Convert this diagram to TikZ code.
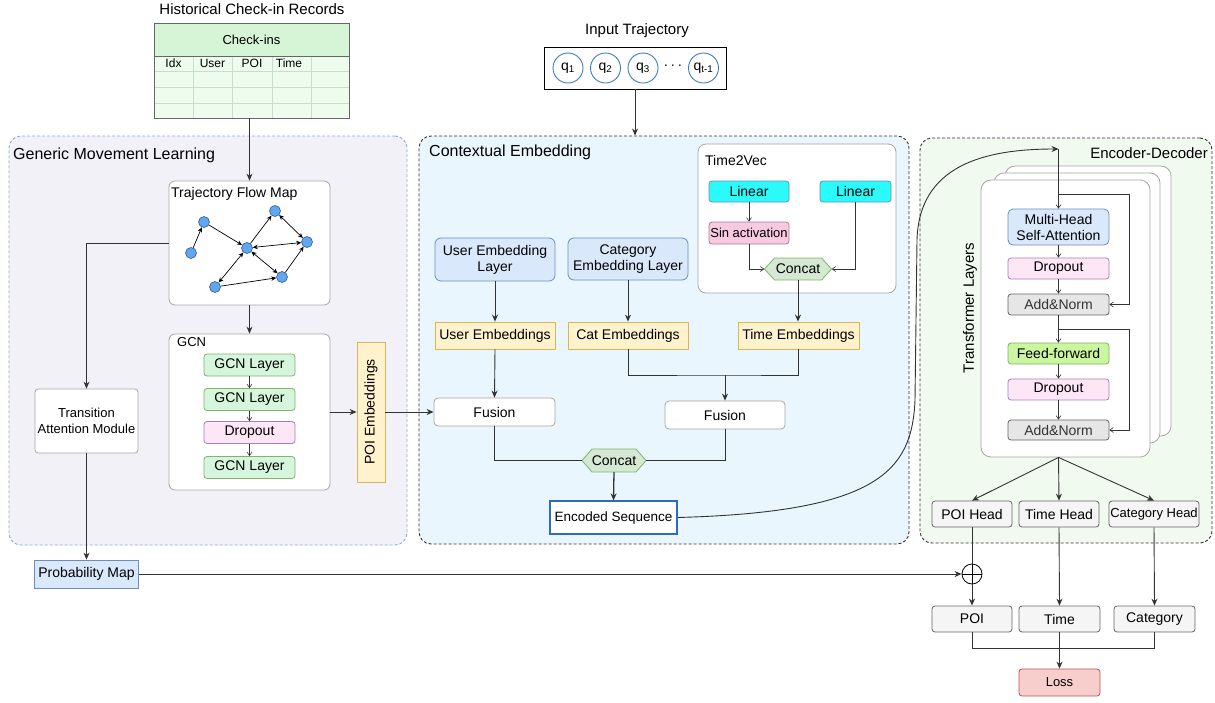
\documentclass[tikz,border=0pt]{standalone}
\usepackage{fontspec}
\setmainfont{Liberation Sans}
\usetikzlibrary{arrows.meta,calc}
\definecolor{lc}{HTML}{333333}
\definecolor{gmlfill}{HTML}{F3F1F8}
\definecolor{gmldraw}{HTML}{8EA9D8}
\definecolor{cefill}{HTML}{E9F6FD}
\definecolor{edfill}{HTML}{F1FAEF}
\definecolor{boxgray}{HTML}{A6A6A6}
\definecolor{gfill}{HTML}{D5F5DC}
\definecolor{gdraw}{HTML}{82B366}
\definecolor{pfill}{HTML}{FDE6F6}
\definecolor{pdraw}{HTML}{A680B8}
\definecolor{bfill}{HTML}{DAE8FC}
\definecolor{bdraw}{HTML}{6C8EBF}
\definecolor{yfill}{HTML}{FFF2CC}
\definecolor{ydraw}{HTML}{D6B656}
\definecolor{cyanfill}{HTML}{2BFAFA}
\definecolor{sinfill}{HTML}{F8CADF}
\definecolor{sindraw}{HTML}{B5739D}
\definecolor{hexfill}{HTML}{D5E8D4}
\definecolor{fffill}{HTML}{CCF5A0}
\definecolor{anfill}{HTML}{E6E6E6}
\definecolor{headfill}{HTML}{F5F5F5}
\definecolor{hdraw}{HTML}{666666}
\definecolor{lossfill}{HTML}{F8CECC}
\definecolor{lossdraw}{HTML}{B85450}
\definecolor{encdraw}{HTML}{2D6CC0}
\definecolor{nodefill}{HTML}{62A6F0}
\definecolor{nodedraw}{HTML}{2C5E9E}
\definecolor{qdraw}{HTML}{3C7CC6}
\definecolor{thdr}{HTML}{D6F5D6}
\definecolor{tbody}{HTML}{EEFCEE}
\definecolor{tline}{HTML}{C9DEC9}
\newcommand{\fsz}[2]{\fontsize{#1}{#2}\selectfont}
\newcommand{\hexa}[4]{\filldraw[fill=hexfill, draw=gdraw, line width=0.8pt] (#1-#3/2,#2) -- (#1-#3/2+10,#2-#4/2) -- (#1+#3/2-10,#2-#4/2) -- (#1+#3/2,#2) -- (#1+#3/2-10,#2+#4/2) -- (#1-#3/2+10,#2+#4/2) -- cycle;}
\begin{document}
\begin{tikzpicture}[x=1pt,y=-1pt,
  bx/.style={draw=hdraw, rounded corners=3pt, inner sep=0pt, align=center, font=\fsz{14}{16}, line width=0.8pt},
  arr/.style={draw=lc, line width=0.9pt, -{Stealth[length=7pt,width=6pt]}},
  sarr/.style={draw=lc, line width=0.6pt, -{Straight Barb[length=3.5pt,width=5pt]}},
  ln/.style={draw=lc, line width=0.9pt},
  sln/.style={draw=lc, line width=0.6pt},
  gn/.style={circle, draw=nodedraw, fill=nodefill, line width=0.6pt, minimum size=11pt, inner sep=0pt},
  ge/.style={draw=black, line width=0.7pt, -{Stealth[length=5pt,width=4.5pt]}},
  gee/.style={draw=black, line width=0.7pt, {Stealth[length=5pt,width=4.5pt]}-{Stealth[length=5pt,width=4.5pt]}},
  qc/.style={circle, draw=qdraw, fill=white, line width=0.9pt, minimum size=30pt, inner sep=0pt, font=\fsz{14}{16}},
  region/.style={rounded corners=12pt, line width=0.9pt, dash pattern=on 3pt off 2pt, inner sep=0pt},
  ttl/.style={font=\fsz{16}{18}, inner sep=0pt},
  lbl/.style={anchor=west, inner sep=0pt, font=\fsz{14}{16}},
]
\useasboundingbox (0,0) rectangle (1215,702);

% regions
\node[region, draw=gmldraw, fill=gmlfill, minimum width=398, minimum height=409] (gml) at (208,340.5) {};
\node[region, draw=lc, fill=cefill, minimum width=490, minimum height=408] (ceb) at (664,340) {};
\node[region, draw=lc, fill=edfill, minimum width=292, minimum height=405] (edb) at (1066,340.5) {};
\node[ttl, anchor=west] (gmlt) at (13,155) {Generic Movement Learning};
\node[ttl, anchor=west] (cet) at (429,152) {Contextual Embedding};
\node[font=\fsz{15}{17}, inner sep=0pt, anchor=east] (edt) at (1208,153) {Encoder-Decoder};
\node[font=\fsz{15}{17}, inner sep=0pt] (hcr) at (252,9) {Historical Check-in Records};
\node[font=\fsz{15}{17}, inner sep=0pt] (itt) at (637,31) {Input Trajectory};

% table
\fill[tbody] (154,56) rectangle (349,118);
\fill[thdr] (154,23) rectangle (349,56);
\foreach \yy in {71,87,103} \draw[tline, line width=0.8pt] (154,\yy) -- (349,\yy);
\foreach \xx in {193,232,272,311} \draw[tline, line width=0.8pt] (\xx,56) -- (\xx,118);
\draw[hdraw, line width=0.8pt] (154,56) -- (349,56);
\node[draw=hdraw, minimum width=195, minimum height=95, inner sep=0pt, line width=0.8pt] (tbl) at (251.5,70.5) {};
\node[font=\fsz{13}{15}, inner sep=0pt] (chk) at (251.5,39.5) {Check-ins};
\node[font=\fsz{12}{14}, inner sep=0pt] (cidx) at (173.5,63.5) {Idx};
\node[font=\fsz{12}{14}, inner sep=0pt] (cusr) at (212.5,63.5) {User};
\node[font=\fsz{12}{14}, inner sep=0pt] (cpoi) at (252,63.5) {POI};
\node[font=\fsz{12}{14}, inner sep=0pt] (ctim) at (289,63.5) {Time};

% trajectory flow map
\node[bx, draw=boxgray, fill=white, minimum width=161, minimum height=124, rounded corners=6pt] (tfm) at (249.5,243) {};
\node[lbl] (tfmt) at (171,194) {Trajectory Flow Map};
\node[gn] (n1) at (191,253) {};
\node[gn] (n2) at (204,222) {};
\node[gn] (n3) at (247,248) {};
\node[gn] (n4) at (275,211) {};
\node[gn] (n5) at (307,242) {};
\node[gn] (n6) at (282,277) {};
\node[gn] (n7) at (215,287) {};
\draw[ge] (n1) -- (n2);
\draw[ge] (n2) -- (n3);
\draw[ge] (n3) -- (n4);
\draw[gee] (n4) -- (n5);
\draw[gee] (n3) -- (n5);
\draw[gee] (n3) -- (n6);
\draw[ge] (n6) -- (n5);
\draw[gee] (n7) -- (n3);
\draw[ge] (n7) -- (n6);

% GCN
\node[bx, draw=boxgray, fill=white, minimum width=161, minimum height=156, rounded corners=6pt] (gcn) at (249.5,412) {};
\node[lbl, font=\fsz{13}{15}] (gcnt) at (177,342) {GCN};
\node[bx, fill=gfill, draw=gdraw, minimum width=91, minimum height=22] (g1) at (249.5,365) {GCN Layer};
\node[bx, fill=gfill, draw=gdraw, minimum width=91, minimum height=22] (g2) at (249.5,399.5) {GCN Layer};
\node[bx, fill=pfill, draw=pdraw, minimum width=91, minimum height=22] (gd) at (249.5,432.5) {Dropout};
\node[bx, fill=gfill, draw=gdraw, minimum width=91, minimum height=22] (g3) at (249.5,467.5) {GCN Layer};
\draw[sarr] (g1.south) -- (g2.north);
\draw[sarr] (g2.south) -- (gd.north);
\draw[sarr] (gd.south) -- (g3.north);

\node[bx, fill=yfill, draw=ydraw, rounded corners=0pt, minimum width=28, minimum height=140] (poie) at (371,412) {};
\node[rotate=90, font=\fsz{14}{16}, inner sep=0pt] (poiet) at (poie.center) {POI Embeddings};

\node[bx, draw=boxgray, fill=white, minimum width=103, minimum height=64, font=\fsz{13}{16}] (tam) at (86.5,421) {Transition\\Attention Module};
\node[bx, fill=bfill, draw=bdraw, rounded corners=0pt, minimum width=104, minimum height=28] (pmap) at (86.5,574) {Probability Map};
\node[circle, draw=black, line width=0.8pt, minimum size=20pt, inner sep=0pt] (op) at (972,574) {};
\draw[black, line width=0.8pt] (op.north) -- (op.south) (op.west) -- (op.east);

% input trajectory
\node[draw=black, line width=0.9pt, minimum width=182, minimum height=42, inner sep=0pt] (inp) at (635,68) {};
\node[qc] (q1) at (568,68) {q\textsubscript{1}};
\node[qc] (q2) at (605.5,68) {q\textsubscript{2}};
\node[qc] (q3) at (643,68) {q\textsubscript{3}};
\node[font=\fsz{14}{16}, inner sep=0pt] (dots) at (673,67) {·\,·\,·};
\node[qc] (qt) at (703.5,68) {q\textsubscript{t-1}};

% Time2Vec
\node[bx, draw=boxgray, fill=white, minimum width=198, minimum height=149, rounded corners=8pt] (t2v) at (797,218.5) {};
\node[lbl] (t2vt) at (705,160) {Time2Vec};
\node[bx, fill=cyanfill, draw=bdraw, minimum width=80, minimum height=21] (lin1) at (749,191.5) {Linear};
\node[bx, fill=cyanfill, draw=bdraw, minimum width=71, minimum height=21] (lin2) at (855.5,191.5) {Linear};
\node[bx, fill=sinfill, draw=sindraw, minimum width=80, minimum height=22, font=\fsz{13}{15}] (sin) at (749,233) {Sin activation};
\hexa{798}{269}{67}{22}
\node[inner sep=0pt, minimum width=67, minimum height=22, font=\fsz{14}{16}] (cat1) at (798,269) {Concat};
\draw[sarr] (lin1.south) -- (sin.north);
\draw[sarr] (sin.south) |- (cat1.west);
\draw[sarr] (lin2.south) |- (cat1.east);

% embeddings
\node[bx, fill=bfill, draw=bdraw, rounded corners=6pt, minimum width=120, minimum height=43] (uel) at (495,259.5) {User Embedding\\Layer};
\node[bx, fill=bfill, draw=bdraw, rounded corners=6pt, minimum width=120, minimum height=42] (cel) at (628,259) {Category\\Embedding Layer};
\node[bx, fill=yfill, draw=ydraw, rounded corners=0pt, minimum width=120, minimum height=27] (ue) at (495,335.5) {User Embeddings};
\node[bx, fill=yfill, draw=ydraw, rounded corners=0pt, minimum width=120, minimum height=27] (ce) at (628,335.5) {Cat Embeddings};
\node[bx, fill=yfill, draw=ydraw, rounded corners=0pt, minimum width=121, minimum height=27] (te) at (798.5,335.5) {Time Embeddings};
\node[bx, draw=boxgray, fill=white, rounded corners=4pt, minimum width=121, minimum height=28] (fus1) at (494.5,412) {Fusion};
\node[bx, draw=boxgray, fill=white, rounded corners=4pt, minimum width=120, minimum height=28] (fus2) at (725,415) {Fusion};
\hexa{614}{460.5}{64}{23}
\node[inner sep=0pt, minimum width=64, minimum height=23, font=\fsz{14}{16}] (cat2) at (614,460.5) {Concat};
\node[bx, draw=encdraw, fill=white, rounded corners=0pt, line width=1.2pt, minimum width=127, minimum height=33, font=\fsz{13.5}{16}] (enc) at (613.5,517.5) {Encoded Sequence};

\draw[arr] (cat1.south) -- (cat1.south |- te.north);
\draw[arr] (uel.south) -- (ue.north);
\draw[arr] (cel.south) -- (ce.north);
\draw[arr] (ue.south) -- (fus1.north);
\coordinate (j1) at (725,375);
\draw[ln] (ce.south) |- (j1) -| (te.south);
\draw[arr] (j1) -- (fus2.north);
\draw[ln] (fus1.south) |- (cat2.west);
\draw[ln] (fus2.south) |- (cat2.east);
\draw[arr, line width=1.3pt] (cat2.south) -- (enc.north);

% transformer
\node[bx, draw=boxgray, fill=white, rounded corners=10pt, minimum width=166, minimum height=270] (tl3) at (1088,301) {};
\node[bx, draw=boxgray, fill=white, rounded corners=10pt, minimum width=166, minimum height=270] (tl2) at (1077,308) {};
\node[bx, draw=boxgray, fill=white, rounded corners=10pt, minimum width=169, minimum height=277] (tl1) at (1065.5,318.5) {};
\node[rotate=90, font=\fsz{15}{17}, inner sep=0pt] (tlt) at (970,308) {Transformer Layers};
\node[bx, fill=bfill, draw=bdraw, rounded corners=5pt, minimum width=101, minimum height=36] (mhsa) at (1058.5,227) {Multi-Head\\Self-Attention};
\node[bx, fill=pfill, draw=pdraw, minimum width=101, minimum height=21] (drop1) at (1058.5,268.5) {Dropout};
\node[bx, fill=anfill, draw=hdraw, minimum width=101, minimum height=21, text=lc] (an1) at (1058.5,304.5) {Add\&Norm};
\node[bx, fill=fffill, draw=gdraw, minimum width=101, minimum height=21] (ff) at (1058.5,353.5) {Feed-forward};
\node[bx, fill=pfill, draw=pdraw, minimum width=101, minimum height=21] (drop2) at (1058.5,389.5) {Dropout};
\node[bx, fill=anfill, draw=hdraw, minimum width=101, minimum height=20, text=lc] (an2) at (1058.5,430) {Add\&Norm};
\coordinate (top) at (1058.5,149);
\coordinate (b1) at (1058.5,194);
\coordinate (r1) at (1129,194);
\coordinate (b2) at (1058.5,329);
\coordinate (r2) at (1129,329);
\draw[sarr] (top) -- (mhsa.north);
\draw[sln] (b1) -- (r1);
\draw[sarr] (r1) |- (an1.east);
\draw[sarr] (mhsa.south) -- (drop1.north);
\draw[sarr] (drop1.south) -- (an1.north);
\draw[sarr] (an1.south) -- (ff.north);
\draw[sln] (b2) -- (r2);
\draw[sarr] (r2) |- (an2.east);
\draw[sarr] (ff.south) -- (drop2.north);
\draw[sarr] (drop2.south) -- (an2.north);

% heads
\node[bx, fill=headfill, draw=hdraw, minimum width=80, minimum height=26] (poih) at (972,514) {POI Head};
\node[bx, fill=headfill, draw=hdraw, minimum width=80, minimum height=26] (timeh) at (1059,514) {Time Head};
\node[bx, fill=headfill, draw=hdraw, minimum width=90, minimum height=26, font=\fsz{13}{15}] (cath) at (1154,514) {Category Head};
\draw[arr] (mhsa.south |- tl1.south) -- (poih.north);
\draw[arr] (mhsa.south |- tl1.south) -- (timeh.north);
\draw[arr] (mhsa.south |- tl1.south) -- (cath.north);

% outputs
\node[bx, fill=headfill, draw=hdraw, minimum width=80, minimum height=26] (poi) at (972,619) {POI};
\node[bx, fill=headfill, draw=hdraw, minimum width=81, minimum height=26] (time) at (1059.5,619) {Time};
\node[bx, fill=headfill, draw=hdraw, minimum width=81, minimum height=26] (cat) at (1154.5,619) {Category};
\node[bx, fill=lossfill, draw=lossdraw, minimum width=81, minimum height=27, font=\fsz{13}{15}] (loss) at (1059.5,682.5) {Loss};
\draw[ln] (poih.south) -- (op.north);
\draw[arr] (op.south) -- (poi.north);
\draw[arr] (timeh.south) -- (time.north);
\draw[arr] (cath.south) -- (cat.north);
\coordinate (j2) at (1059.5,648);
\draw[ln] (poi.south) |- (j2) -| (cat.south);
\draw[arr] (time.south) -- (loss.north);

% global connectors
\draw[arr] (tfm.north |- tbl.south) -- (tfm.north);
\draw[arr] (tfm.west) -| (tam.north);
\draw[arr] (tam.south) -- (pmap.north);
\draw[arr] (pmap.east) -- (op.west);
\draw[arr] (tfm.south) -- (gcn.north);
\draw[arr] (gcn.east) -- (poie.west);
\draw[arr] (poie.east) -- (fus1.west);
\draw[arr] (inp.south) -- (inp.south |- ceb.north);
\draw[arr] (enc.east) .. controls (880,512) and (912,470) .. (915,400) -- (917,240) .. controls (919,165) and (985,149) .. (top);
\end{tikzpicture}
\end{document}
